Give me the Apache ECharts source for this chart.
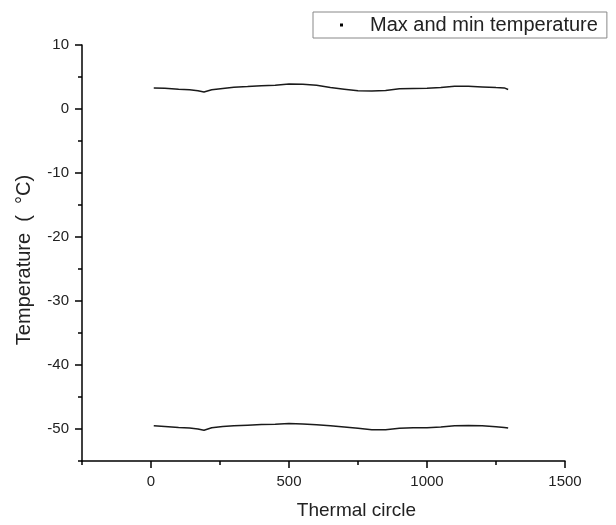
<!DOCTYPE html>
<html>
<head>
<meta charset="utf-8">
<script src="https://cdn.jsdelivr.net/npm/echarts@6/dist/echarts.min.js"></script>
<style>html,body{margin:0;padding:0;background:#fff}#c{width:616px;height:525px}</style>
</head>
<body>
<div id="c"></div>
<script>
var seriesName = 'Max and min temperature';
var cycles = [10,50,100,140,170,192,220,260,300,350,400,450,500,550,600,650,700,750,800,850,900,950,1000,1050,1100,1150,1200,1250,1280,1294];
var maxTemp = [3.3,3.25,3.1,3.0,2.85,2.65,3.0,3.2,3.4,3.5,3.65,3.7,3.9,3.85,3.7,3.35,3.1,2.85,2.8,2.9,3.15,3.2,3.25,3.35,3.55,3.55,3.45,3.35,3.3,3.05];
var minTemp = [-49.5,-49.6,-49.75,-49.85,-50.0,-50.2,-49.8,-49.6,-49.5,-49.4,-49.3,-49.25,-49.15,-49.2,-49.35,-49.5,-49.7,-49.9,-50.1,-50.1,-49.9,-49.8,-49.8,-49.7,-49.5,-49.45,-49.5,-49.65,-49.75,-49.85];
var xMajor = [0,500,1000,1500];
var xMinor = [-250,250,750,1250];
var yMajor = [-50,-40,-30,-20,-10,0,10];
var yMinor = [-55,-45,-35,-25,-15,-5,5];

function pairs(xs, ys){ return xs.map(function(x,i){ return [x, ys[i]]; }); }

var font = 'Liberation Sans, Arial, sans-serif';
var chart = echarts.init(document.getElementById('c'));
var axisLine = {show:true, onZero:false, lineStyle:{color:'#000', width:1.5}};
var plain = function(v){ return String(v); };
chart.setOption({
  animation:false,
  backgroundColor:'#fff',
  grid:{left:82, right:51, top:45, bottom:63},
  legend:{
    data:[{name:seriesName, icon:'rect'}],
    left:313, top:12,
    itemWidth:3, itemHeight:3,
    padding:[3,9,3,27],
    borderColor:'#888', borderWidth:1,
    textStyle:{fontFamily:font, fontSize:20, color:'#222', padding:[0,0,0,22]}
  },
  xAxis:[{
    type:'value', min:-250, max:1500, interval:250,
    name:'Thermal circle', nameLocation:'middle', nameGap:40,
    nameTextStyle:{fontFamily:font, fontSize:19, color:'#222', padding:[0,0,0,66]},
    axisLine:axisLine,
    axisTick:{show:true, customValues:xMajor, length:7, lineStyle:{color:'#000', width:1.5}},
    axisLabel:{customValues:xMajor, formatter:plain, fontFamily:font, fontSize:15, color:'#222', margin:13},
    splitLine:{show:false}
  },{
    type:'value', position:'bottom', min:-250, max:1500, interval:250,
    axisLine:{show:false, onZero:false},
    axisTick:{show:true, customValues:xMinor, length:4, lineStyle:{color:'#000', width:1.5}},
    axisLabel:{show:false}, splitLine:{show:false}
  }],
  yAxis:[{
    type:'value', min:-55, max:10, interval:5,
    name:'Temperature  (  °C)', nameLocation:'middle', nameGap:48,
    nameTextStyle:{fontFamily:font, fontSize:20, color:'#222', padding:[0,14,0,0]},
    axisLine:axisLine,
    axisTick:{show:true, customValues:yMajor, length:7, lineStyle:{color:'#000', width:1.5}},
    axisLabel:{customValues:yMajor, formatter:plain, fontFamily:font, fontSize:15, color:'#222', margin:13},
    splitLine:{show:false}
  },{
    type:'value', position:'left', min:-55, max:10, interval:5,
    axisLine:{show:false, onZero:false},
    axisTick:{show:true, customValues:yMinor, length:4, lineStyle:{color:'#000', width:1.5}},
    axisLabel:{show:false}, splitLine:{show:false}
  }],
  series:[{
    name:seriesName, type:'line', showSymbol:false, symbol:'rect',
    data:pairs(cycles, maxTemp),
    itemStyle:{color:'#000'},
    lineStyle:{color:'#1a1a1a', width:1.5}
  },{
    name:seriesName, type:'line', showSymbol:false, symbol:'rect',
    data:pairs(cycles, minTemp),
    itemStyle:{color:'#000'},
    lineStyle:{color:'#1a1a1a', width:1.5}
  }]
});
</script>
</body>
</html>
